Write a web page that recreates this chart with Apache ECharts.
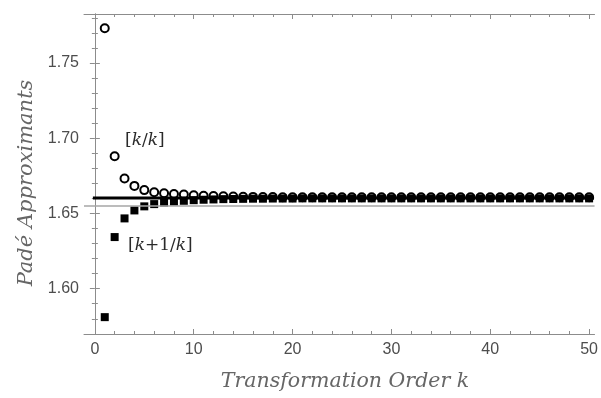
<!DOCTYPE html>
<html>
<head>
<meta charset="utf-8">
<script src="https://cdn.jsdelivr.net/npm/echarts@6/dist/echarts.min.js"></script>
<style>
  html, body { margin: 0; padding: 0; background: #fff; }
  #chart { width: 601px; height: 398px; }
</style>
</head>
<body>
<div id="chart"></div>
<script>
// k = 1..50
var orders = [];
for (var i = 1; i <= 50; i++) orders.push(i);

// [k/k] approximants (open circles)
var diagValues = [
  1.7730, 1.6880, 1.6732, 1.6683, 1.6655, 1.6641, 1.6634, 1.6629, 1.6625, 1.6621,
  1.6618, 1.6616, 1.6614, 1.6612, 1.6611, 1.6610, 1.6609, 1.6609, 1.6608, 1.6608,
  1.6608, 1.6607, 1.6607, 1.6607, 1.6607, 1.6607, 1.6607, 1.6607, 1.6607, 1.6607,
  1.6607, 1.6607, 1.6607, 1.6607, 1.6607, 1.6607, 1.6607, 1.6607, 1.6607, 1.6607,
  1.6607, 1.6607, 1.6607, 1.6607, 1.6607, 1.6607, 1.6607, 1.6607, 1.6607, 1.6607
];
// [k+1/k] approximants (filled squares)
var offDiagValues = [
  1.5811, 1.6343, 1.6467, 1.6520, 1.6547, 1.6562, 1.6572, 1.6579, 1.6584, 1.6588,
  1.6591, 1.6593, 1.6595, 1.6596, 1.6597, 1.6598, 1.6598, 1.6599, 1.6599, 1.6599,
  1.6600, 1.6600, 1.6600, 1.6600, 1.6600, 1.6600, 1.6600, 1.6600, 1.6600, 1.6600,
  1.6600, 1.6600, 1.6600, 1.6600, 1.6600, 1.6600, 1.6600, 1.6600, 1.6600, 1.6600,
  1.6600, 1.6600, 1.6600, 1.6600, 1.6600, 1.6600, 1.6600, 1.6600, 1.6600, 1.6600
];
var limitValue = 1.6602;   // thick black reference line
var lowerValue = 1.6550;   // thin gray line

var xTicks = [0, 10, 20, 30, 40, 50];
var xMinorTicks = [2, 4, 6, 8, 12, 14, 16, 18, 22, 24, 26, 28, 32, 34, 36, 38, 42, 44, 46, 48];
var yTicks = [1.60, 1.65, 1.70, 1.75];
var yMinorTicks = [1.58, 1.59, 1.61, 1.62, 1.63, 1.64, 1.66, 1.67, 1.68, 1.69, 1.71, 1.72, 1.73, 1.74, 1.76, 1.77, 1.78];

var X_MIN = -1.1, X_MAX = 50.55;
var Y_MIN = 1.5699, Y_MAX = 1.7825;

var axisColor = '#8c8c8c';
var labelColor = '#4d4d4d';
var titleFont = 'DejaVu Serif';

function zip(xs, ys) {
  return xs.map(function (x, i) { return [x, ys[i]]; });
}

function xAxisPart(pos, ticks, len, withLabels, withLine) {
  return {
    type: 'value', position: pos, min: X_MIN, max: X_MAX,
    axisLine: { show: withLine, lineStyle: { color: axisColor, width: 1 } },
    axisTick: { show: true, inside: true, length: len, customValues: ticks, lineStyle: { color: axisColor } },
    axisLabel: withLabels
      ? { show: true, customValues: ticks, color: labelColor, fontSize: 16, fontFamily: 'Liberation Sans', margin: 8 }
      : { show: false },
    splitLine: { show: false }
  };
}

function yAxisPart(pos, ticks, len, withLabels, withLine) {
  return {
    type: 'value', position: pos, min: Y_MIN, max: Y_MAX,
    axisLine: { show: withLine, lineStyle: { color: axisColor, width: 1 } },
    axisTick: { show: true, inside: true, length: len, customValues: ticks, lineStyle: { color: axisColor } },
    axisLabel: withLabels
      ? { show: true, customValues: ticks, color: labelColor, fontSize: 16, fontFamily: 'Liberation Sans', margin: 5,
          formatter: function (v) { return v.toFixed(2); } }
      : { show: false },
    splitLine: { show: false }
  };
}

var xAxes = [
  xAxisPart('bottom', xTicks, 5, true, true),
  xAxisPart('bottom', xMinorTicks, 3, false, false),
  xAxisPart('top', xTicks, 5, false, true),
  xAxisPart('top', xMinorTicks, 3, false, false)
];
var yAxes = [
  yAxisPart('left', yTicks, 5, true, true),
  yAxisPart('left', yMinorTicks, 3, false, false),
  yAxisPart('right', yTicks, 5, false, true),
  yAxisPart('right', yMinorTicks, 3, false, false)
];

var chart = echarts.init(document.getElementById('chart'), null, { renderer: 'canvas' });
chart.setOption({
  animation: false,
  backgroundColor: '#fff',
  grid: { left: 84, right: 2, top: 14, bottom: 64, containLabel: false },
  xAxis: xAxes,
  yAxis: yAxes,
  series: [
    {
      type: 'line', symbol: 'none', silent: true,
      data: [[X_MIN, lowerValue], [X_MAX, lowerValue]],
      lineStyle: { color: '#a6a6a6', width: 1.5 }
    },
    {
      type: 'line', symbol: 'none', silent: true,
      data: [[-0.2, limitValue], [50.5, limitValue]],
      lineStyle: { color: '#000', width: 3 }
    },
    {
      type: 'scatter', symbol: 'emptyCircle', symbolSize: 8,
      data: zip(orders, diagValues),
      itemStyle: { color: '#000', borderColor: '#000', borderWidth: 0.8, opacity: 1 }
    },
    {
      type: 'scatter', symbol: 'rect', symbolSize: 8,
      data: zip(orders, offDiagValues),
      itemStyle: { color: '#000', opacity: 1 }
    }
  ],
  graphic: [
    {
      type: 'text', x: 345, y: 382,
      style: {
        text: 'Transformation Order k', align: 'center', verticalAlign: 'middle',
        fontFamily: titleFont, fontStyle: 'italic', fontSize: 20.5, fill: '#666'
      }
    },
    {
      type: 'text', x: 27, y: 183, rotation: Math.PI / 2,
      style: {
        text: 'Padé Approximants', align: 'center', verticalAlign: 'middle',
        fontFamily: titleFont, fontStyle: 'italic', fontSize: 21, fill: '#666'
      }
    },
    {
      type: 'text', left: 125, top: 132,
      style: {
        text: '[{i|k}/{i|k}]',
        fontFamily: titleFont, fontSize: 17, fill: '#2a2a2a',
        rich: { i: { fontStyle: 'italic', fontFamily: titleFont, fontSize: 17, fill: '#2a2a2a' } }
      }
    },
    {
      type: 'text', left: 128, top: 237,
      style: {
        text: '[{i|k}+1/{i|k}]',
        fontFamily: titleFont, fontSize: 17, fill: '#2a2a2a',
        rich: { i: { fontStyle: 'italic', fontFamily: titleFont, fontSize: 17, fill: '#2a2a2a' } }
      }
    }
  ]
});
</script>
</body>
</html>
